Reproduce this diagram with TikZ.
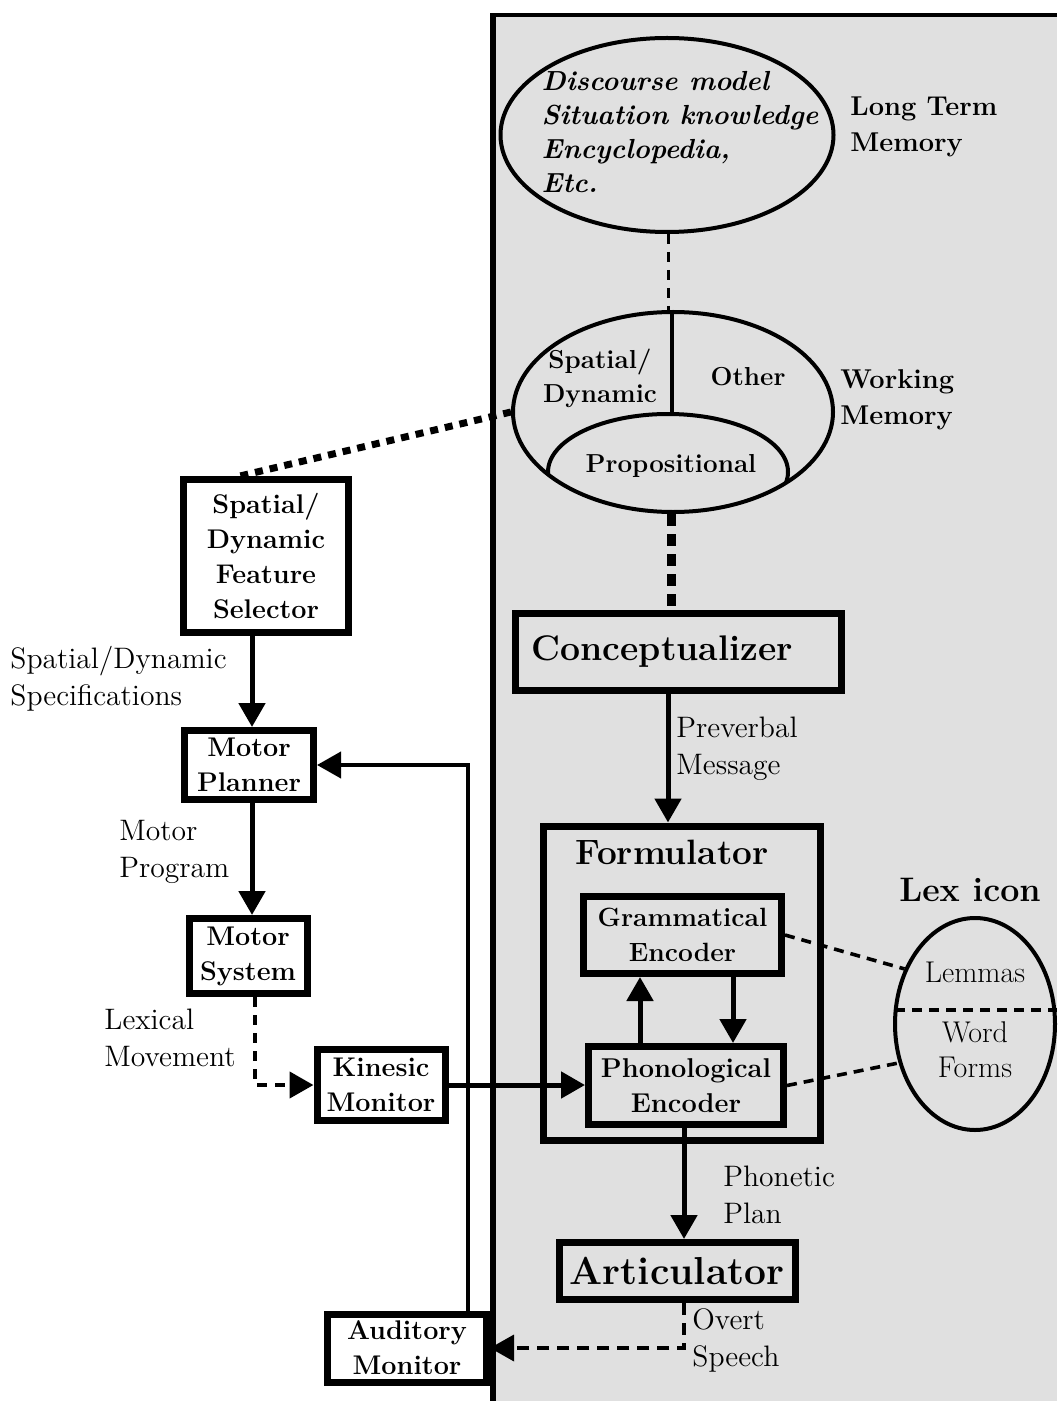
\documentclass[tikz,border=0pt]{standalone}
\usepackage{fontspec}
\usetikzlibrary{arrows.meta,shapes.geometric,calc}
\definecolor{panel}{RGB}{224,224,224}
\begin{document}
\begin{tikzpicture}[x=0.5pt,y=-0.5pt,
  box/.style={draw,line width=3.5pt,fill=white,inner sep=0pt,align=center,
    font=\fontsize{13.5}{17.5}\selectfont\bfseries},
  gbox/.style={box,fill=panel},
  bigtxt/.style={inner sep=0pt,font=\fontsize{17.6}{20}\selectfont\bfseries},
  lbl/.style={inner sep=0pt,anchor=west,align=left,font=\fontsize{14.8}{18.5}\selectfont},
  blbl/.style={inner sep=0pt,align=center,font=\fontsize{13}{17}\selectfont\bfseries},
  tip/.style={-{Triangle[length=12pt,width=13pt]}},
  arr/.style={line width=2.5pt,tip},
  fb/.style={line width=2pt,tip},
  dsharr/.style={line width=2.2pt,dash pattern=on 5pt off 4pt,tip},
  thindash/.style={line width=1.5pt,dash pattern=on 5pt off 4pt},
  lexdash/.style={line width=1.8pt,dash pattern=on 5pt off 3.5pt},
  sqdots/.style={line width=3.5pt,dash pattern=on 4pt off 3.5pt},
  thickdots/.style={line width=4.5pt,dash pattern=on 6pt off 4pt},
  oval/.style={draw,ellipse,line width=2pt,inner sep=0pt}
]
\useasboundingbox (0,0) rectangle (1057,1401);
\fill[white] (0,0) rectangle (1057,1401);
% grey panel
\fill[panel] (490,15) rectangle (1057,1401);
\draw[line width=2pt] (490,15) -- (1057,15);
\draw[line width=3pt] (493,15) -- (493,1401);

% helper columns
\coordinate (c252) at (252,0);
\coordinate (c255) at (255,0);
\coordinate (c468) at (468,0);
\coordinate (c640) at (640,0);
\coordinate (c668) at (668,0);
\coordinate (c671) at (671,0);
\coordinate (c684) at (684,0);
\coordinate (c733) at (733,0);

% Long term memory
\node[oval,minimum width=166.5pt,minimum height=97pt] (ltm) at (667,135) {};
\node[inner sep=0pt,align=left,font=\fontsize{13.8}{17}\selectfont\bfseries\itshape] (ltmtext) at (680,132)
  {Discourse model\\Situation knowledge\\Encyclopedia,\\Etc.};
\node[lbl,font=\fontsize{13.6}{18}\selectfont\bfseries] (ltmlbl) at (850,127) {Long Term\\Memory};

% Working memory
\node[oval,minimum width=160pt,minimum height=100pt] (wm) at (673,412) {};
\begin{scope}
  \clip (673,412) ellipse [x radius=80pt,y radius=50pt];
  \draw[line width=2pt] (668,472) ellipse [x radius=60pt,y radius=29pt];
\end{scope}
\draw[line width=2pt] (wm.north -| 672,0) -- (672,414);
\node[blbl] (wmsd) at (600,378) {Spatial/\\Dynamic};
\node[blbl] (wmother) at (748,377) {Other};
\node[blbl] (wmprop) at (671,466) {Propositional};
\node[lbl,font=\fontsize{13.6}{18}\selectfont\bfseries] (wmlbl) at (840,400) {Working\\Memory};

% left column boxes
\node[box,minimum width=82.5pt,minimum height=76.5pt] (sdfs) at (266,556)
  {Spatial/\\Dynamic\\Feature\\Selector};
\node[box,minimum width=64.5pt,minimum height=34.5pt] (mp) at (249,765) {Motor\\Planner};
\node[box,minimum width=59pt,minimum height=37.5pt] (ms) at (248,956) {Motor\\System};
\node[box,minimum width=64pt,minimum height=35.5pt] (km) at (381,1085) {Kinesic\\Monitor};
\node[box,minimum width=79.5pt,minimum height=34pt] (am) at (407,1348) {Auditory\\Monitor};

% right column boxes
\node[gbox,minimum width=163pt,minimum height=38.5pt,inner xsep=8pt,text width=147pt,align=left,
  font=\fontsize{17.8}{20}\selectfont\bfseries] (conc) at (678.5,651.5) {Conceptualizer};
\node[gbox,minimum width=138.5pt,minimum height=157pt] (form) at (681.5,983) {};
\node[bigtxt] (formlbl) at (672,852) {Formulator};
\node[gbox,minimum width=99pt,minimum height=38.5pt,font=\fontsize{13.2}{17.5}\selectfont\bfseries] (ge) at (682.5,935) {Grammatical\\Encoder};
\node[gbox,minimum width=97.5pt,minimum height=39pt,font=\fontsize{13.6}{17.5}\selectfont\bfseries] (pe) at (686,1085.5) {Phonological\\Encoder};
\node[gbox,minimum width=118pt,minimum height=28.5pt,font=\fontsize{19.5}{21}\selectfont\bfseries] (art) at (677,1271) {Articulator};

% lexicon
\node[bigtxt,font=\fontsize{17}{20}\selectfont\bfseries] (lexlbl) at (970,890) {Lex icon};
\node[oval,minimum width=80pt,minimum height=106pt] (lex) at (975,1024) {};
\draw[lexdash] (895,1010) -- (1057,1010);
\node[inner sep=0pt,font=\fontsize{15}{18}\selectfont] (lemmas) at (975,972) {Lemmas};
\node[inner sep=0pt,align=center,font=\fontsize{15}{17.5}\selectfont] (wforms) at (975,1050) {Word\\Forms};

% plain labels
\node[lbl] (l1) at (10,679) {Spatial/Dynamic\\Specifications};
\node[lbl] (l2) at (119,852) {Motor\\Program};
\node[lbl] (l3) at (104,1038) {Lexical\\Movement};
\node[lbl] (l4) at (676,749) {Preverbal\\Message};
\node[lbl] (l5) at (723,1195) {Phonetic\\Plan};
\node[lbl] (l6) at (692,1340) {Overt\\Speech};

% connectors
\draw[thindash] (ltm.south -| c668) -- (wm.north -| c668);
\draw[sqdots] (wm.west) -- ([xshift=-13pt]sdfs.north);
\draw[thickdots] (wm.south -| c671) -- (conc.north -| c671);
\draw[arr] (sdfs.south -| c252) -- (mp.north -| c252);
\draw[arr] (mp.south -| c252) -- (ms.north -| c252);
\draw[dsharr] (ms.south -| c255) |- (km.west);
\draw[arr] (km.east) -- (km.east -| pe.west);
\draw[arr] (conc.south -| c668) -- (form.north -| c668);
\draw[arr] (pe.north -| c640) -- (ge.south -| c640);
\draw[arr] (ge.south -| c733) -- (pe.north -| c733);
\draw[arr] (pe.south -| c684) -- (art.north -| c684);
\draw[dsharr,line width=1.8pt,dash pattern=on 6pt off 4pt] (art.south -| c684) |- (am.east);
\draw[fb] (am.north -| c468) |- (mp.east);
\draw[lexdash] (ge.east) -- (lex.142);
\draw[lexdash] (pe.east) -- (lex.207);
\end{tikzpicture}
\end{document}
